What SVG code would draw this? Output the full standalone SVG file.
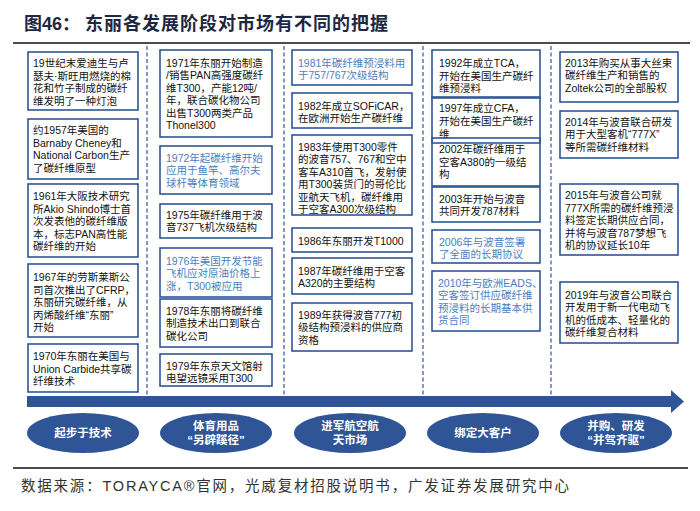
<svg xmlns="http://www.w3.org/2000/svg" width="700" height="511" viewBox="0 0 700 511">
<style>
text{font-family:"Liberation Sans","Noto Sans CJK SC",sans-serif}
.box{fill:none;stroke:#2F5597;stroke-width:1.6}
.t{font-size:10.5px;fill:#111}
.b{font-size:10.5px;fill:#4A7EC0}
.sep{stroke:#2F5597;stroke-width:1.2;stroke-dasharray:4 2.5;fill:none}
.ell{fill:#2F5597}
.et{font-size:11.5px;font-weight:bold;fill:#fff;text-anchor:middle}
</style>
<rect width="700" height="511" fill="#fff"/>
<g id="title">
<text x="24" y="30" font-size="18" font-weight="bold" fill="#1c2741">图46：</text>
<text x="85" y="30" font-size="18" font-weight="bold" fill="#1c2741" textLength="303" lengthAdjust="spacing">东丽各发展阶段对市场有不同的把握</text>
<line x1="13" y1="43" x2="690" y2="43" stroke="#111" stroke-width="1.5"/>
</g>
<g id="connectors">
<line class="sep" x1="147" y1="46" x2="147" y2="396"/>
<line class="sep" x1="284" y1="46" x2="284" y2="396"/>
<line class="sep" x1="423" y1="46" x2="423" y2="396"/>
<line class="sep" x1="551" y1="46" x2="551" y2="396"/>
<path id="arrow" d="M27,396 H671 V390 L684,401.5 L671,413 V407 H27 Z" fill="#2F5597"/>
</g>
<g id="c1n1"><rect class="box" x="28" y="52" width="110" height="58"/>
<text class="t" x="33"><tspan x="33" y="67">19世纪末爱迪生与卢</tspan><tspan x="33" y="79.5">瑟夫·斯旺用燃烧的棉</tspan><tspan x="33" y="92">花和竹子制成的碳纤</tspan><tspan x="33" y="104.5">维发明了一种灯泡</tspan></text></g>
<g id="c1n2"><rect class="box" x="28" y="119" width="110" height="60"/>
<text class="t"><tspan x="33" y="134">约1957年美国的</tspan><tspan x="33" y="146.5">Barnaby Cheney和</tspan><tspan x="33" y="159">National Carbon生产</tspan><tspan x="33" y="171.5">了碳纤维原型</tspan></text></g>
<g id="c1n3"><rect class="box" x="28" y="184" width="110" height="73"/>
<text class="t"><tspan x="33" y="200">1961年大阪技术研究</tspan><tspan x="33" y="212.5">所Akio Shindo博士首</tspan><tspan x="33" y="225">次发表他的碳纤维版</tspan><tspan x="33" y="237.5">本，标志PAN高性能</tspan><tspan x="33" y="250">碳纤维的开始</tspan></text></g>
<g id="c1n4"><rect class="box" x="28" y="264" width="110" height="73"/>
<text class="t"><tspan x="33" y="281">1967年的劳斯莱斯公</tspan><tspan x="33" y="293.5">司首次推出了CFRP，</tspan><tspan x="33" y="306">东丽研究碳纤维，从</tspan><tspan x="33" y="318.5">丙烯酸纤维“东丽”</tspan><tspan x="33" y="331">开始</tspan></text></g>
<g id="c1n5"><rect class="box" x="28" y="344" width="110" height="48"/>
<text class="t"><tspan x="33" y="360">1970年东丽在美国与</tspan><tspan x="33" y="372.5">Union Carbide共享碳</tspan><tspan x="33" y="385">纤维技术</tspan></text></g>

<g id="c2n1"><rect class="box" x="160" y="50" width="112" height="87"/>
<text class="t"><tspan x="166" y="67">1971年东丽开始制造</tspan><tspan x="166" y="79.4">/销售PAN高强度碳纤</tspan><tspan x="166" y="91.8">维T300，产能12吨/</tspan><tspan x="166" y="104.2">年，联合碳化物公司</tspan><tspan x="166" y="116.6">出售T300两类产品</tspan><tspan x="166" y="129">Thonel300</tspan></text></g>
<g id="c2n2"><rect class="box" x="160" y="146" width="112" height="48"/>
<text class="b"><tspan x="166" y="162">1972年起碳纤维开始</tspan><tspan x="166" y="174.4">应用于鱼竿、高尔夫</tspan><tspan x="166" y="186.8">球杆等体育领域</tspan></text></g>
<g id="c2n3"><rect class="box" x="160" y="204" width="112" height="34"/>
<text class="t"><tspan x="166" y="219">1975年碳纤维用于波</tspan><tspan x="166" y="231.4">音737飞机次级结构</tspan></text></g>
<g id="c2n4"><rect class="box" x="160" y="248" width="112" height="49"/>
<text class="b"><tspan x="166" y="265">1976年美国开发节能</tspan><tspan x="166" y="277.4">飞机应对原油价格上</tspan><tspan x="166" y="289.8">涨，T300被应用</tspan></text></g>
<g id="c2n5"><rect class="box" x="160" y="299" width="112" height="48"/>
<text class="t"><tspan x="166" y="315">1978年东丽将碳纤维</tspan><tspan x="166" y="327.4">制造技术出口到联合</tspan><tspan x="166" y="339.8">碳化公司</tspan></text></g>
<g id="c2n6"><rect class="box" x="160" y="354" width="112" height="32"/>
<text class="t"><tspan x="166" y="369.5">1979年东京天文馆射</tspan><tspan x="166" y="381.5">电望远镜采用T300</tspan></text></g>

<g id="c3n1"><rect class="box" x="292" y="50" width="120" height="35"/>
<text class="b"><tspan x="298" y="66.5">1981年碳纤维预浸料用</tspan><tspan x="298" y="78.5">于757/767次级结构</tspan></text></g>
<g id="c3n2"><rect class="box" x="292" y="93" width="120" height="35"/>
<text class="t"><tspan x="298" y="109.5">1982年成立SOFiCAR，</tspan><tspan x="298" y="121.5">在欧洲开始生产碳纤维</tspan></text></g>
<g id="c3n3"><rect class="box" x="292" y="135" width="120" height="80"/>
<text class="t"><tspan x="298" y="151">1983年使用T300零件</tspan><tspan x="298" y="163.4">的波音757、767和空中</tspan><tspan x="298" y="175.8">客车A310首飞，发射使</tspan><tspan x="298" y="188.2">用T300装货门的哥伦比</tspan><tspan x="298" y="200.6">亚航天飞机，碳纤维用</tspan><tspan x="298" y="213">于空客A300次级结构</tspan></text></g>
<g id="c3n4"><rect class="box" x="292" y="228" width="120" height="24"/>
<text class="t" x="298" y="244.5">1986年东丽开发T1000</text></g>
<g id="c3n5"><rect class="box" x="292" y="258" width="120" height="36"/>
<text class="t"><tspan x="298" y="275">1987年碳纤维用于空客</tspan><tspan x="298" y="287">A320的主要结构</tspan></text></g>
<g id="c3n6"><rect class="box" x="292" y="303" width="120" height="48"/>
<text class="t"><tspan x="298" y="319">1989年获得波音777初</tspan><tspan x="298" y="331.4">级结构预浸料的供应商</tspan><tspan x="298" y="343.8">资格</tspan></text></g>

<g id="c4n1"><rect class="box" x="432" y="50" width="108" height="48"/>
<text class="t"><tspan x="439" y="67">1992年成立TCA，</tspan><tspan x="439" y="79.5">开始在美国生产碳纤</tspan><tspan x="439" y="92">维预浸料</tspan></text></g>
<g id="c4n2"><rect class="box" x="432" y="97" width="108" height="46"/>
<text class="t"><tspan x="439" y="112">1997年成立CFA，</tspan><tspan x="439" y="124.5">开始在美国生产碳纤</tspan><tspan x="439" y="137.5">维</tspan></text></g>
<g id="c4n3"><rect class="box" x="432" y="138" width="108" height="48"/>
<text class="t"><tspan x="439" y="153">2002年碳纤维用于</tspan><tspan x="439" y="165.5">空客A380的一级结</tspan><tspan x="439" y="178">构</tspan></text></g>
<g id="c4n4"><rect class="box" x="432" y="187" width="108" height="35"/>
<text class="t"><tspan x="439" y="202.5">2003年开始与波音</tspan><tspan x="439" y="215">共同开发787材料</tspan></text></g>
<g id="c4n5"><rect class="box" x="432" y="230" width="108" height="33"/>
<text class="b"><tspan x="439" y="245.5">2006年与波音签署</tspan><tspan x="439" y="257.5">了全面的长期协议</tspan></text></g>
<g id="c4n6"><rect class="box" x="432" y="271" width="108" height="60"/>
<text class="b"><tspan x="438" y="287">2010年与欧洲EADS、</tspan><tspan x="438" y="299.4">空客签订供应碳纤维</tspan><tspan x="438" y="311.8">预浸料的长期基本供</tspan><tspan x="438" y="324.2">货合同</tspan></text></g>

<g id="c5n1"><rect class="box" x="560" y="52" width="118" height="50"/>
<text class="t"><tspan x="565" y="67">2013年购买从事大丝束</tspan><tspan x="565" y="79.4">碳纤维生产和销售的</tspan><tspan x="565" y="91.8">Zoltek公司的全部股权</tspan></text></g>
<g id="c5n2"><rect class="box" x="560" y="111" width="118" height="47"/>
<text class="t"><tspan x="565" y="126">2014年与波音联合研发</tspan><tspan x="565" y="138.4">用于大型客机“777X”</tspan><tspan x="565" y="150.8">等所需碳纤维材料</tspan></text></g>
<g id="c5n3"><rect class="box" x="560" y="184" width="118" height="71"/>
<text class="t"><tspan x="565" y="199">2015年与波音公司就</tspan><tspan x="565" y="211.5">777X所需的碳纤维预浸</tspan><tspan x="565" y="224">料签定长期供应合同，</tspan><tspan x="565" y="236.5">并将与波音787梦想飞</tspan><tspan x="565" y="249">机的协议延长10年</tspan></text></g>
<g id="c5n4"><rect class="box" x="560" y="282" width="118" height="61"/>
<text class="t"><tspan x="565" y="299">2019年与波音公司联合</tspan><tspan x="565" y="311.4">开发用于新一代电动飞</tspan><tspan x="565" y="323.8">机的低成本、轻量化的</tspan><tspan x="565" y="336.2">碳纤维复合材料</tspan></text></g>

<g id="stage1"><ellipse class="ell" cx="83" cy="433" rx="56" ry="20"/><text class="et" x="83" y="437">起步于技术</text></g>
<g id="stage2"><ellipse class="ell" cx="216" cy="433" rx="56" ry="20"/><text class="et"><tspan x="216" y="430">体育用品</tspan><tspan x="216" y="444">“另辟蹊径”</tspan></text></g>
<g id="stage3"><ellipse class="ell" cx="350" cy="433" rx="56" ry="20"/><text class="et"><tspan x="350" y="430">进军航空航</tspan><tspan x="350" y="444">天市场</tspan></text></g>
<g id="stage4"><ellipse class="ell" cx="483" cy="433" rx="56" ry="20"/><text class="et" x="483" y="437">绑定大客户</text></g>
<g id="stage5"><ellipse class="ell" cx="616" cy="433" rx="56" ry="20"/><text class="et"><tspan x="616" y="430">并购、研发</tspan><tspan x="616" y="444">“并驾齐驱”</tspan></text></g>

<g id="footer">
<line x1="13" y1="468" x2="688" y2="468" stroke="#111" stroke-width="1.5"/>
<text x="21" y="491" font-size="14.5" fill="#333" textLength="548" lengthAdjust="spacing">数据来源：TORAYCA®官网，光威复材招股说明书，广发证券发展研究中心</text>
</g>
</svg>
